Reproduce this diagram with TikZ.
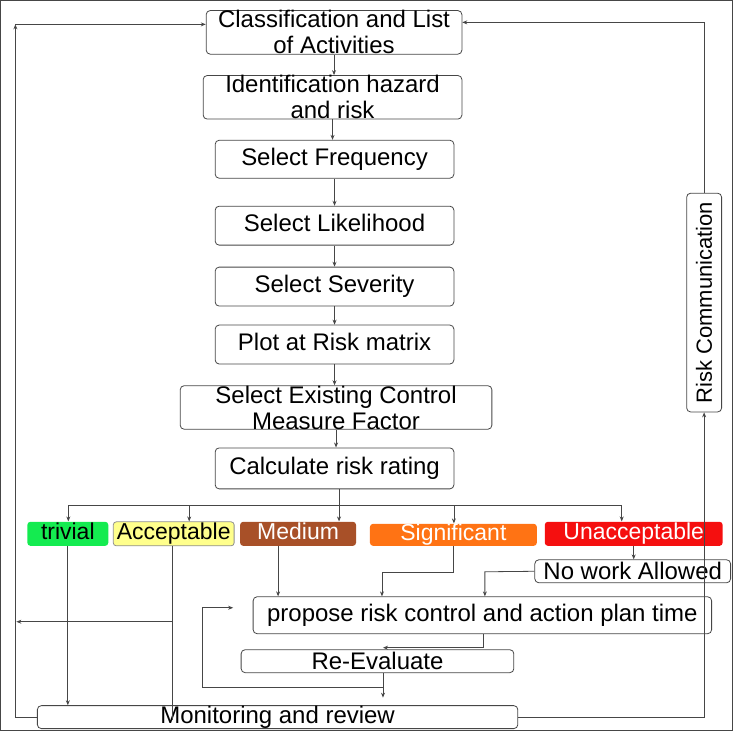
\documentclass[tikz,border=0pt]{standalone}
\usepackage{fontspec}
\setmainfont{Liberation Sans}
\definecolor{TrivialGreen}{RGB}{20,235,80}
\definecolor{AcceptYellow}{RGB}{255,255,140}
\definecolor{MediumBrown}{RGB}{168,80,40}
\definecolor{SignifOrange}{RGB}{255,115,20}
\definecolor{UnaccRed}{RGB}{245,15,15}
\definecolor{LineGray}{RGB}{70,70,70}
\usetikzlibrary{arrows.meta,positioning,calc}

\begin{document}
\begin{tikzpicture}[x=1pt, y=-1pt,
      >={Stealth[length=5pt,width=4pt]},
      every path/.style={draw=LineGray, line width=0.8pt},
      box/.style={rectangle, draw=LineGray, rounded corners=4pt, inner sep=0pt, align=center,
        font=\fontsize{24}{26}\selectfont},
      level/.style={rectangle, rounded corners=3pt, inner sep=0pt, minimum height=24,
        text height=16.5pt, text depth=4.5pt, font=\fontsize{23}{25}\selectfont},
      small/.style={box, font=\fontsize{22}{24}\selectfont}
    ]
      \useasboundingbox (0,0) rectangle (733,731);
      % main chain
      \node[box, minimum width=256, minimum height=43] (cls) at (334,32) {Classification and List\\of Activities};
      \node[box, minimum width=259, minimum height=42] (ident) at (332.5,97) {Identification hazard\\and risk};
      \node[box, minimum width=239, minimum height=38, text height=17pt, text depth=5pt] (freq) at (334.5,159) {Select Frequency};
      \node[box, minimum width=239, minimum height=39, text height=17pt, text depth=5pt] (like) at (334.5,225.5) {Select Likelihood};
      \node[box, minimum width=239, minimum height=39, text height=17pt, text depth=5pt] (sev) at (334.5,286.5) {Select Severity};
      \node[box, minimum width=239, minimum height=39, text height=17pt, text depth=5pt] (plot) at (334.5,344.5) {Plot at Risk matrix};
      \node[box, minimum width=312, minimum height=41] (ecm) at (336,407.5) {Select Existing Control\\Measure Factor};
      \node[box, minimum width=239, minimum height=41, text height=17pt, text depth=5pt] (calc) at (334.5,468.5) {Calculate risk rating};
      % risk levels
      \node[level, fill=TrivialGreen, minimum width=81] (trivial) at (67.5,534) {trivial};
      \node[level, fill=AcceptYellow, draw=LineGray!60, minimum width=121] (accept) at (173.5,534) {Acceptable};
      \node[level, fill=MediumBrown, text=white, minimum width=116] (medium) at (298,534) {Medium};
      \node[level, fill=SignifOrange, text=white, minimum width=167, minimum height=22] (signif) at (453.5,535) {Significant};
      \node[level, fill=UnaccRed, text=white, minimum width=178] (unacc) at (634,534) {Unacceptable};
      % lower boxes
      \node[box, minimum width=196, minimum height=23] (nowork) at (633,571.5) {No work Allowed};
      \node[box, minimum width=459, minimum height=37, text height=17pt, text depth=5pt] (propose) at (482.5,615.5) {propose risk control and action plan time};
      \node[box, minimum width=273, minimum height=23] (reeval) at (377.5,661.5) {Re-Evaluate};
      \node[box, minimum width=481, minimum height=23] (monitor) at (277.5,717.5) {Monitoring and review};
      \node[small, rotate=90, minimum width=219, minimum height=35] (riskcomm) at (704.5,302.5) {Risk Communication};

      % chain arrows
      \foreach \a/\b in {cls/ident, ident/freq, freq/like, like/sev, sev/plot, plot/ecm, ecm/calc}
        \draw[->] (\a.south) -- (\a.south |- \b.north);

      % branching to levels
      \coordinate (split) at (339,506);
      \coordinate (bt) at (68,506);
      \coordinate (ba) at (189,506);
      \coordinate (bs) at (454,506);
      \coordinate (bu) at (622,506);
      \draw (split |- calc.south) -- (split);
      \draw (bt) -- (bu);
      \draw[->] (split) -- (split |- medium.north);
      \draw[->] (bt) -- (bt |- trivial.north);
      \draw[->] (ba) -- (ba |- accept.north);
      \draw[->] (bs) -- (bs |- signif.north);
      \draw[->] (bu) -- (bu |- unacc.north);

      % trivial and acceptable
      \coordinate (accx) at (172,720);
      \coordinate (accleft) at (16,622);
      \draw[->] (trivial.south) -- (trivial.south |- monitor.north);
      \draw (accx |- accept.south) -- (accx);
      \draw[->] (accleft -| accx) -- (accleft);

      % medium, significant, unacceptable
      \coordinate (medx) at (278,546);
      \coordinate (sigbend) at (382,573);
      \coordinate (nwbend) at (485,572);
      \draw[->] (medx) -- (medx |- propose.north);
      \draw[->] (signif.south) |- (sigbend) -- (sigbend |- propose.north);
      \draw[->] (unacc.south) -- (unacc.south |- nowork.north);
      \draw[->] (nowork.west) -- (nwbend) -- (nwbend |- propose.north);

      % re-evaluation loop
      \coordinate (pr1) at (484,648);
      \coordinate (pr2) at (383,648);
      \coordinate (rvend) at (383,698);
      \coordinate (lp1) at (202,688);
      \coordinate (lp2) at (202,608);
      \coordinate (lp3) at (233,608);
      \draw[->] (pr1 |- propose.south) -- (pr1) -- (pr2);
      \draw[->] (pr2 |- reeval.south) -- (rvend);
      \draw[->] (pr2 |- lp1) -- (lp1) -- (lp2) -- (lp3);

      % feedback to the top
      \coordinate (ltop) at (15,24);
      \coordinate (rtop) at (705,22);
      \draw[->] (monitor.west) -| (ltop);
      \draw[->] (ltop) -- (ltop -| cls.west);
      \draw[->] (monitor.east) -| (riskcomm.west);
      \draw[->] (riskcomm.east) |- (rtop -| cls.east);
    \end{tikzpicture}
\end{document}
